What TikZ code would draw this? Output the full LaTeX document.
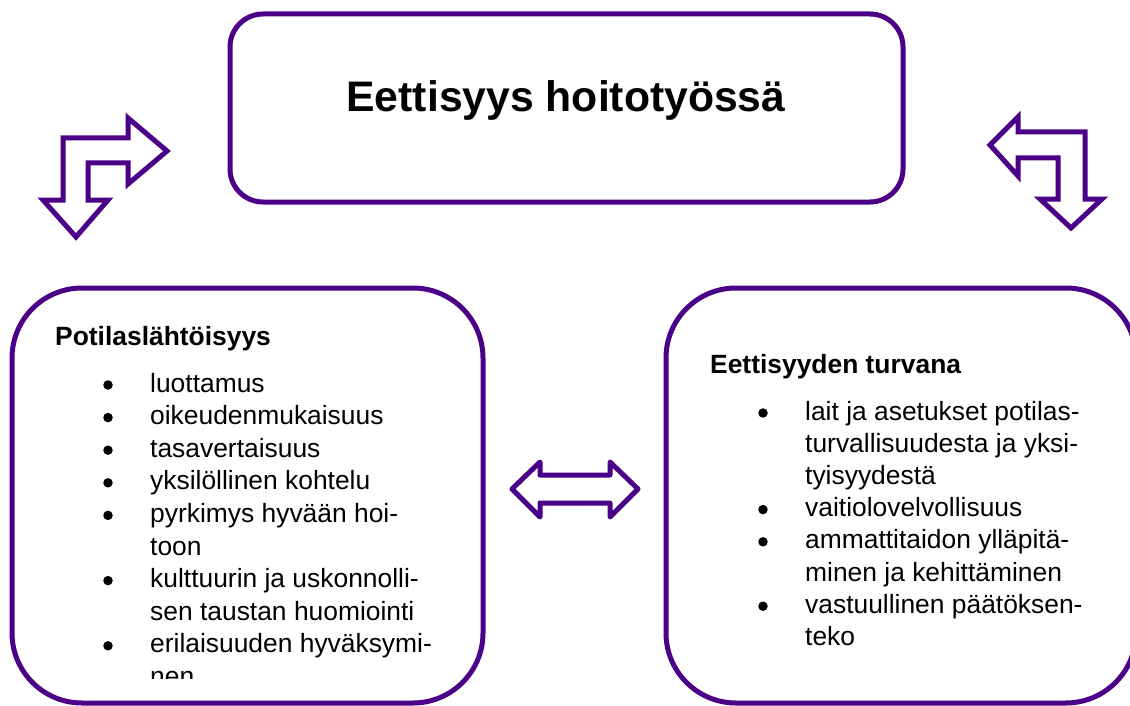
\documentclass[tikz,border=0pt]{standalone}
\usepackage{fontspec}
\setmainfont{Liberation Sans}
\definecolor{frame}{RGB}{75,0,135}
\begin{document}
\begin{tikzpicture}[x=1pt,y=-1pt,
  box/.style={draw=frame,line width=5pt,rounded corners=#1,inner sep=0pt},
  arrowshape/.style={draw=frame,line width=5pt,fill=white},
  body/.style={anchor=base west,inner sep=0pt,font=\fontsize{26.4}{32}\selectfont},
  head/.style={anchor=base west,inner sep=0pt,font=\fontsize{26.4}{32}\selectfont\bfseries},
  dot/.style={circle,fill=black,inner sep=0pt,minimum size=9.5pt}]
\useasboundingbox (0,0) rectangle (1130,706);
\clip (0,0) rectangle (1130,706);
% boxes
\node[box=33pt,minimum width=673pt,minimum height=188pt] (top) at (566.5,108) {};
\node[box=70pt,minimum width=471pt,minimum height=415pt] (left) at (247.5,495.5) {};
\node[box=70pt,minimum width=470pt,minimum height=415pt] (right) at (901,495.5) {};
\node[anchor=base,inner sep=0pt,font=\fontsize{42.7}{50}\selectfont\bfseries] (title) at (566,112) {Eettisyys hoitotyössä};
% bent arrow left
\draw[arrowshape] (167,151) -- (128,118) -- (128,138) -- (63,138) -- (63,200) -- (43,200) -- (76,237) -- (108,200) -- (88,200) -- (88,163) -- (128,163) -- (128,184) -- cycle;
% bent arrow right
\draw[arrowshape] (990,145) -- (1018,117) -- (1018,132) -- (1085,132) -- (1085,199) -- (1102,199) -- (1071,228) -- (1040,199) -- (1058,199) -- (1058,158) -- (1018,158) -- (1018,176) -- cycle;
% double arrow
\draw[arrowshape,line join=round] (512,489) -- (540,462) -- (540,475) -- (610,475) -- (610,462) -- (638,489) -- (610,517) -- (610,503) -- (540,503) -- (540,517) -- cycle;
% left text
\node[head] (lh) at (55,345) {Potilaslähtöisyys};
\begin{scope}
\clip (12,288) rectangle (483,678);
\node[body] (l1) at (150,392) {luottamus};
\node[body] (l2) at (150,424.6) {oikeudenmukaisuus};
\node[body] (l3) at (150,457.2) {tasavertaisuus};
\node[body] (l4) at (150,489.8) {yksilöllinen kohtelu};
\node[body] (l5) at (150,522.4) {pyrkimys hyvään hoi-};
\node[body] (l6) at (150,555) {toon};
\node[body] (l7) at (150,587.6) {kulttuurin ja uskonnolli-};
\node[body] (l8) at (150,620.2) {sen taustan huomiointi};
\node[body] (l9) at (150,652.8) {erilaisuuden hyväksymi-};
\node[body] (l10) at (150,685.4) {nen};
\end{scope}
\node[dot] (lb1) at (108,385) {};
\node[dot] (lb2) at (108,417.6) {};
\node[dot] (lb3) at (108,450.2) {};
\node[dot] (lb4) at (108,482.8) {};
\node[dot] (lb5) at (108,515.4) {};
\node[dot] (lb7) at (108,580.6) {};
\node[dot] (lb9) at (108,645.8) {};
% right text
\node[head] (rh) at (710,373) {Eettisyyden turvana};
\node[body] (r1) at (805,420) {lait ja asetukset potilas-};
\node[body] (r2) at (805,452.2) {turvallisuudesta ja yksi-};
\node[body] (r3) at (805,484.4) {tyisyydestä};
\node[body] (r4) at (805,516.6) {vaitiolovelvollisuus};
\node[body] (r5) at (805,548.8) {ammattitaidon ylläpitä-};
\node[body] (r6) at (805,581) {minen ja kehittäminen};
\node[body] (r7) at (805,613.2) {vastuullinen päätöksen-};
\node[body] (r8) at (805,645.4) {teko};
\node[dot] (rb1) at (763,413) {};
\node[dot] (rb4) at (763,509.6) {};
\node[dot] (rb5) at (763,541.8) {};
\node[dot] (rb7) at (763,606.2) {};
\end{tikzpicture}
\end{document}
